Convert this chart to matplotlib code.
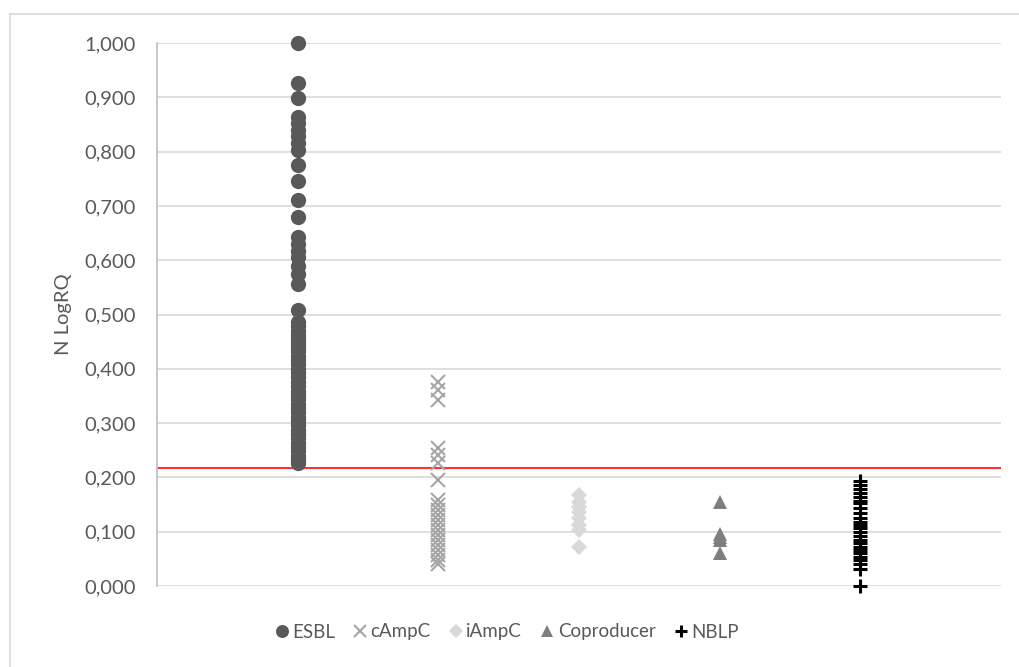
import matplotlib.pyplot as plt
from matplotlib.lines import Line2D
from matplotlib.ticker import FuncFormatter

plt.rcParams['font.family'] = ['Lato', 'DejaVu Sans']

groups = ["ESBL", "cAmpC", "iAmpC", "Coproducer", "NBLP"]

esbl = [1.000, 0.927, 0.898, 0.864, 0.852, 0.840, 0.828, 0.815, 0.803,
        0.775, 0.745, 0.711, 0.680, 0.643, 0.630, 0.617, 0.605, 0.590,
        0.575, 0.557, 0.508, 0.487, 0.478, 0.470, 0.462, 0.455, 0.447,
        0.440, 0.432, 0.424, 0.416, 0.408, 0.400, 0.392, 0.384, 0.376,
        0.368, 0.360, 0.352, 0.344, 0.336, 0.328, 0.320, 0.312, 0.304,
        0.296, 0.288, 0.280, 0.272, 0.264, 0.256, 0.248, 0.240, 0.233,
        0.226]
campc = [0.376, 0.361, 0.343, 0.255, 0.241, 0.226, 0.195, 0.158, 0.149,
         0.140, 0.131, 0.122, 0.112, 0.103, 0.094, 0.085, 0.076, 0.066,
         0.057, 0.048, 0.040]
iampc = [0.168, 0.155, 0.146, 0.137, 0.125, 0.112, 0.103, 0.072]
coproducer = [0.155, 0.095, 0.090, 0.085, 0.060]
nblp = [0.194, 0.186, 0.178, 0.171, 0.163, 0.157, 0.152, 0.143, 0.135,
        0.126, 0.118, 0.112, 0.106, 0.100, 0.092, 0.085, 0.079, 0.072,
        0.066, 0.060, 0.053, 0.047, 0.041, 0.031, 0.000]
cutoff = 0.217

series = [esbl, campc, iampc, coproducer, nblp]
markers = ["o", "x", "D", "^", "+"]
colors = ["#595959", "#a6a6a6", "#d9d9d9", "#7f7f7f", "#000000"]
sizes = [11, 9.5, 8, 10.5, 10.5]
widths = [0, 1.5, 0, 0, 2.2]

fig = plt.figure(figsize=(10.19, 6.67), dpi=100)
ax = fig.add_axes([157 / 1019, 1 - 586 / 667, 844 / 1019, 543 / 667])

for i, vals in enumerate(series):
    ax.plot([i + 1] * len(vals), vals, linestyle="none", marker=markers[i],
            color=colors[i], markersize=sizes[i], markeredgewidth=widths[i],
            label=groups[i], zorder=3, clip_on=False)

ax.axhline(cutoff, color="#ff3333", linewidth=1.5, zorder=2)

ax.set_xlim(0, 6)
ax.set_ylim(0, 1.0)
ax.set_yticks([i / 10 for i in range(11)])
ax.yaxis.set_major_formatter(FuncFormatter(lambda v, p: f"{v:.3f}".replace(".", ",")))
ax.set_xticks([])
ax.grid(axis="y", color="#d9d9d9", linewidth=1.2, zorder=0)
ax.tick_params(axis="y", length=0, pad=15, labelsize=14.5, labelcolor="#595959")
for s in ["top", "right", "bottom"]:
    ax.spines[s].set_visible(False)
ax.spines["left"].set_color("#bfbfbf")
ax.spines["left"].set_linewidth(1.2)
ax.set_ylabel("N LogRQ", fontsize=14.5, color="#595959", labelpad=9)

handles = [Line2D([], [], linestyle="none", marker=markers[i], color=colors[i],
                  markersize=sizes[i] * 0.85, markeredgewidth=widths[i])
           for i in range(5)]
fig.legend(handles, groups, loc="center", bbox_to_anchor=(506 / 1019, 1 - 632 / 667),
           ncol=5, frameon=False, fontsize=13.5, handletextpad=0.1,
           columnspacing=0.9, handlelength=0.9, labelcolor="#595959")

# chart area border (only top and left fall inside the picture)
fig.add_artist(Line2D([10 / 1019, 1.0], [1 - 14 / 667, 1 - 14 / 667],
                      color="#d9d9d9", linewidth=1.2))
fig.add_artist(Line2D([10 / 1019, 10 / 1019], [0, 1 - 14 / 667],
                      color="#d9d9d9", linewidth=1.2))

fig.savefig("out.png", dpi=100)
